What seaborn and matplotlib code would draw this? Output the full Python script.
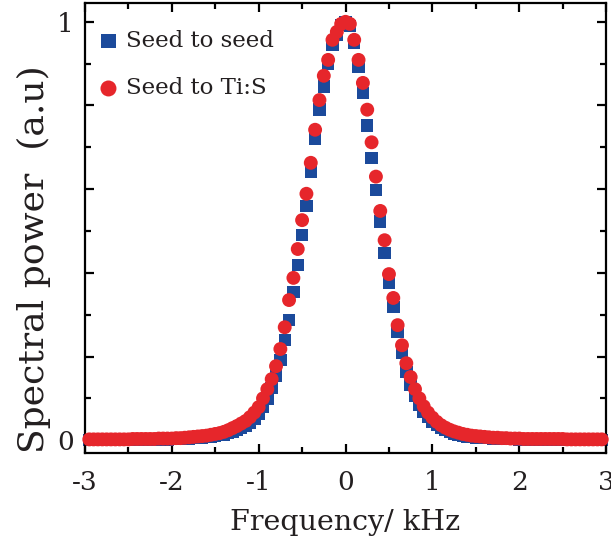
import numpy as np
import pandas as pd
import matplotlib
matplotlib.use("Agg")
import matplotlib.pyplot as plt
from matplotlib.ticker import MultipleLocator, FixedLocator, FuncFormatter
import seaborn as sns

# ---------------- data ----------------
freq_khz = [
    -2.95, -2.90, -2.85, -2.80, -2.75, -2.70, -2.65, -2.60, -2.55, -2.50,
    -2.45, -2.40, -2.35, -2.30, -2.25, -2.20, -2.15, -2.10, -2.05, -2.00,
    -1.95, -1.90, -1.85, -1.80, -1.75, -1.70, -1.65, -1.60, -1.55, -1.50,
    -1.45, -1.40, -1.35, -1.30, -1.25, -1.20, -1.15, -1.10, -1.05, -1.00,
    -0.95, -0.90, -0.85, -0.80, -0.75, -0.70, -0.65, -0.60, -0.55, -0.50,
    -0.45, -0.40, -0.35, -0.30, -0.25, -0.20, -0.15, -0.10, -0.05, 0.00,
    0.05, 0.10, 0.15, 0.20, 0.25, 0.30, 0.35, 0.40, 0.45, 0.50,
    0.55, 0.60, 0.65, 0.70, 0.75, 0.80, 0.85, 0.90, 0.95, 1.00,
    1.05, 1.10, 1.15, 1.20, 1.25, 1.30, 1.35, 1.40, 1.45, 1.50,
    1.55, 1.60, 1.65, 1.70, 1.75, 1.80, 1.85, 1.90, 1.95, 2.00,
    2.05, 2.10, 2.15, 2.20, 2.25, 2.30, 2.35, 2.40, 2.45, 2.50,
    2.55, 2.60, 2.65, 2.70, 2.75, 2.80, 2.85, 2.90, 2.95,
]

seed_to_seed = [
    0.001, 0.001, 0.001, 0.001, 0.001, 0.001, 0.001, 0.001, 0.002, 0.002,
    0.002, 0.002, 0.002, 0.002, 0.002, 0.002, 0.002, 0.002, 0.002, 0.003,
    0.003, 0.003, 0.004, 0.004, 0.005, 0.006, 0.007, 0.008, 0.009, 0.010,
    0.012, 0.014, 0.017, 0.020, 0.024, 0.029, 0.035, 0.042, 0.051, 0.063,
    0.080, 0.100, 0.125, 0.155, 0.192, 0.240, 0.287, 0.354, 0.419, 0.490,
    0.560, 0.641, 0.720, 0.790, 0.845, 0.900, 0.945, 0.970, 0.992, 1.000,
    0.990, 0.950, 0.892, 0.830, 0.752, 0.675, 0.598, 0.523, 0.447, 0.376,
    0.318, 0.258, 0.208, 0.163, 0.132, 0.105, 0.085, 0.068, 0.055, 0.044,
    0.036, 0.029, 0.024, 0.020, 0.016, 0.013, 0.011, 0.009, 0.008, 0.007,
    0.006, 0.005, 0.005, 0.004, 0.004, 0.003, 0.003, 0.003, 0.003, 0.002,
    0.002, 0.002, 0.002, 0.002, 0.002, 0.002, 0.002, 0.002, 0.002, 0.002,
    0.001, 0.001, 0.001, 0.001, 0.001, 0.001, 0.001, 0.001, 0.001,
]

seed_to_tis = [
    0.002, 0.002, 0.002, 0.002, 0.002, 0.002, 0.002, 0.002, 0.002, 0.002,
    0.003, 0.003, 0.003, 0.003, 0.003, 0.003, 0.004, 0.004, 0.004, 0.004,
    0.005, 0.005, 0.006, 0.007, 0.008, 0.009, 0.010, 0.011, 0.013, 0.015,
    0.017, 0.020, 0.024, 0.029, 0.034, 0.040, 0.046, 0.055, 0.066, 0.079,
    0.100, 0.122, 0.146, 0.177, 0.218, 0.270, 0.335, 0.388, 0.457, 0.526,
    0.589, 0.663, 0.742, 0.813, 0.871, 0.909, 0.957, 0.976, 0.995, 1.000,
    0.995, 0.957, 0.909, 0.854, 0.790, 0.712, 0.630, 0.548, 0.478, 0.397,
    0.340, 0.275, 0.227, 0.184, 0.151, 0.122, 0.100, 0.081, 0.066, 0.054,
    0.044, 0.036, 0.030, 0.025, 0.021, 0.018, 0.015, 0.013, 0.011, 0.010,
    0.009, 0.008, 0.007, 0.006, 0.006, 0.005, 0.005, 0.004, 0.004, 0.004,
    0.003, 0.003, 0.003, 0.003, 0.003, 0.003, 0.003, 0.003, 0.003, 0.003,
    0.002, 0.002, 0.002, 0.002, 0.002, 0.002, 0.002, 0.002, 0.002,
]

series_labels = ["Seed to seed", "Seed to Ti:S"]
x_tick_values = [-3, -2, -1, 0, 1, 2, 3]
y_label_values = [0, 1]

# ---------------- style ----------------
sns.set_style("ticks")
plt.rcParams["font.family"] = ["DejaVu Serif"]
plt.rcParams["axes.unicode_minus"] = False
plt.rcParams["axes.linewidth"] = 1.6

BLUE = "#1b4a9b"
RED = "#e6262b"
TEXT = "#231f20"

fig = plt.figure(figsize=(6.11, 5.52), dpi=100)
ax = fig.add_axes([0.139, 0.179, 0.853, 0.8156])

df = pd.DataFrame({"freq": freq_khz, "s2s": seed_to_seed, "s2t": seed_to_tis})

sns.scatterplot(data=df, x="freq", y="s2s", marker="s", color=BLUE, s=80,
                linewidth=0, edgecolor="none", ax=ax, zorder=2,
                label=series_labels[0], clip_on=False)
sns.scatterplot(data=df, x="freq", y="s2t", marker="o", color=RED, s=100,
                linewidth=0, edgecolor="none", ax=ax, zorder=3,
                label=series_labels[1], clip_on=False)

ax.set_xlim(-3, 3)
ax.set_ylim(-0.031, 1.045)

ax.xaxis.set_major_locator(FixedLocator(x_tick_values))
ax.xaxis.set_minor_locator(MultipleLocator(0.5))
ax.yaxis.set_major_locator(MultipleLocator(0.2))
ax.yaxis.set_minor_locator(MultipleLocator(0.1))
ax.yaxis.set_major_formatter(FuncFormatter(
    lambda v, p: ("%d" % round(v)) if any(abs(v - t) < 1e-6 for t in y_label_values) else ""))
ax.xaxis.set_major_formatter(FuncFormatter(lambda v, p: "%d" % round(v)))

ax.tick_params(which="both", direction="in", top=True, right=True,
               width=1.6, colors="black", labelcolor=TEXT, labelsize=19)
ax.tick_params(which="major", length=6.5)
ax.tick_params(axis="x", which="major", pad=12)
ax.tick_params(axis="y", which="major", pad=8)
ax.tick_params(which="minor", length=4.5)

for sp in ax.spines.values():
    sp.set_linewidth(1.6)
    sp.set_color("black")

ax.set_xlabel("Frequency/ kHz", fontsize=20.5, labelpad=10, color=TEXT)
ax.set_ylabel("Spectral power  (a.u)", fontsize=26, color=TEXT)
ax.yaxis.set_label_coords(-0.066, 0.43)

leg = ax.legend(loc="upper left", bbox_to_anchor=(-0.012, 0.975), frameon=False,
                fontsize=16.5, handletextpad=0.15, labelspacing=1.1,
                borderaxespad=0.3, handlelength=1.2, markerscale=1.15)
for t in leg.get_texts():
    t.set_color(TEXT)

fig.savefig("out.png", dpi=100)
